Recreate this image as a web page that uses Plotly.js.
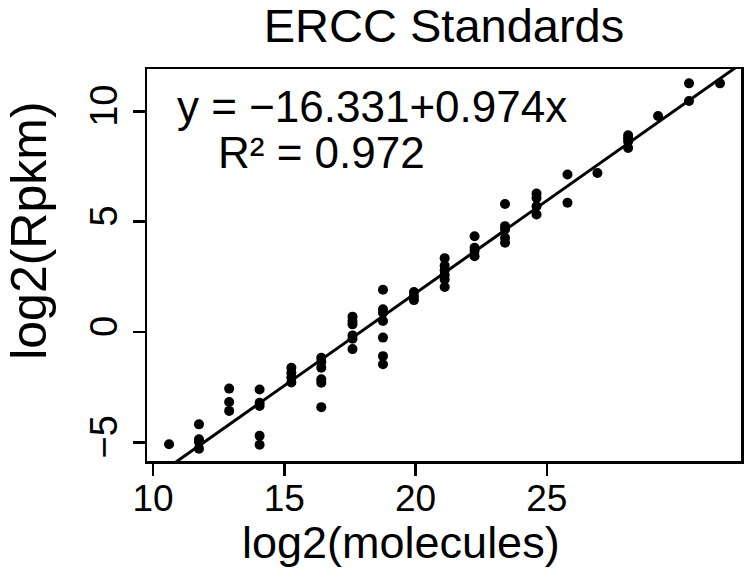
<!DOCTYPE html>
<html>
<head>
<meta charset="utf-8">
<script src="https://cdn.plot.ly/plotly-3.0.1.min.js"></script>
<style>html,body{margin:0;padding:0;background:#fff;}#chart{width:750px;height:576px;}</style>
</head>
<body>
<div id="chart"></div>
<script>
// Column positions on the log2(molecules) axis
const colX = [10.61, 11.75, 12.90, 14.06, 15.27, 16.41, 17.60, 18.76, 19.94, 21.11,
              22.25, 23.41, 24.61, 25.79, 26.93, 28.10, 29.24, 30.42, 31.60];
// log2(Rpkm) values for each column
const colY = [
  [-5.08],
  [-4.18, -4.86, -4.98, -5.28],
  [-2.56, -3.17, -3.57],
  [-2.60, -3.20, -3.35, -4.70, -5.10],
  [-1.62, -1.84, -2.06, -2.28],
  [-1.16, -1.35, -1.61, -2.14, -2.29, -3.40],
  [0.70, 0.50, 0.35, -0.15, -0.30, -0.77],
  [1.92, 1.03, 0.88, 0.50, -0.25, -1.09, -1.46],
  [1.82, 1.62, 1.45],
  [3.35, 3.02, 2.80, 2.58, 2.38, 2.04],
  [4.34, 3.82, 3.67, 3.44],
  [5.80, 4.80, 4.65, 4.27, 4.05],
  [6.28, 6.08, 5.70, 5.33],
  [7.14, 5.86],
  [7.21],
  [8.92, 8.78, 8.64, 8.34],
  [9.79],
  [11.27, 10.47],
  [11.27]
];
const xTicks = [10, 15, 20, 25];
const yTicks = [-5, 0, 5, 10];
const titleText = "ERCC Standards";
const xLabel = "log2(molecules)";
const yLabel = "log2(Rpkm)";
const eqText = "y = \u221216.331+0.974x";
const r2Text = "R\u00b2 = 0.972";

const xs = [], ys = [];
colX.forEach((x, i) => colY[i].forEach(y => { xs.push(x); ys.push(y); }));

// least-squares fit of the points
const n = xs.length;
const mx = xs.reduce((a, b) => a + b, 0) / n;
const my = ys.reduce((a, b) => a + b, 0) / n;
let sxy = 0, sxx = 0;
for (let i = 0; i < n; i++) { sxy += (xs[i] - mx) * (ys[i] - my); sxx += (xs[i] - mx) ** 2; }
const slope = sxy / sxx, icpt = my - slope * mx;

const xRange = [9.77, 32.4];
const yRange = [-5.84, 11.92];
const lineX = [xRange[0] - 1, xRange[1] + 1];
const lineY = lineX.map(x => icpt + slope * x);

const font = "Liberation Sans, Arial, Helvetica, sans-serif";

const traces = [
  {x: lineX, y: lineY, type: 'scatter', mode: 'lines', line: {color: '#000', width: 3}, hoverinfo: 'skip'},
  {x: xs, y: ys, type: 'scatter', mode: 'markers', marker: {color: '#000', size: 10}}
];

const layout = {
  width: 750, height: 576,
  margin: {l: 147, r: 9, t: 69, b: 115},
  paper_bgcolor: '#fff', plot_bgcolor: '#fff',
  showlegend: false,
  font: {family: font, color: '#000'},
  title: {text: titleText, font: {size: 47, family: font, color: '#000'},
          xref: 'paper', x: 0.5, xanchor: 'center', yref: 'container', y: 0.955, yanchor: 'middle'},
  xaxis: {range: xRange, tickvals: xTicks, ticktext: xTicks.map(String), ticks: 'outside', ticklen: 12,
          tickwidth: 2.5, tickcolor: '#000', showline: true, linecolor: '#000', linewidth: 2.5, mirror: true,
          ticklabelstandoff: -9,
          showgrid: false, zeroline: false, tickfont: {size: 37, family: font, color: '#000'}},
  yaxis: {range: yRange, tickvals: yTicks, ticks: 'outside', ticklen: 12, tickangle: -90,
          tickwidth: 2.5, tickcolor: '#000', showline: true, linecolor: '#000', linewidth: 2.5, mirror: true,
          showgrid: false, zeroline: false, tickfont: {size: 38, family: font, color: '#000'}},
  annotations: [
    {text: eqText, xref: 'paper', yref: 'paper', x: 0.0466, y: 0.904, xanchor: 'left', yanchor: 'middle',
     showarrow: false, font: {size: 44, family: font, color: '#000'}},
    {text: r2Text, xref: 'paper', yref: 'paper', x: 0.1168, y: 0.7875, xanchor: 'left', yanchor: 'middle',
     showarrow: false, font: {size: 44, family: font, color: '#000'}},
    {text: xLabel, xref: 'paper', yref: 'paper', x: 0.4277, y: -0.207, xanchor: 'center', yanchor: 'middle',
     showarrow: false, font: {size: 45, family: font, color: '#000'}},
    {text: yLabel, xref: 'paper', yref: 'paper', x: -0.199, y: 0.5866, xanchor: 'center', yanchor: 'middle',
     textangle: -90, showarrow: false, font: {size: 50, family: font, color: '#000'}}
  ]
};

Plotly.newPlot('chart', traces, layout, {displayModeBar: false, staticPlot: true});
</script>
</body>
</html>
